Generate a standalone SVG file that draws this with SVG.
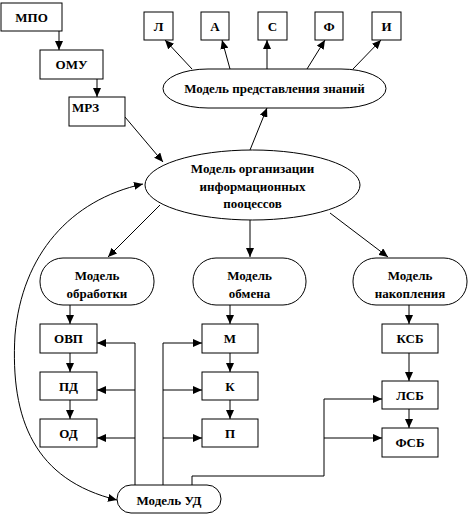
<svg xmlns="http://www.w3.org/2000/svg" width="470" height="517" viewBox="0 0 470 517">
<style>
.b{fill:#fff;stroke:#000;stroke-width:1}
.t{font-family:"Liberation Serif","Times New Roman",serif;font-weight:bold;font-size:13px;fill:#000;text-anchor:middle}
.c{fill:none;stroke:#000;stroke-width:1}
</style>
<defs>
<marker id="a" markerUnits="userSpaceOnUse" markerWidth="10" markerHeight="8" refX="9" refY="4" orient="auto-start-reverse">
<path d="M0,0 L9,4 L0,8 z" fill="#000"/>
</marker>
</defs>
<g id="connectors" class="c">
<path d="M59,31 V50" marker-end="url(#a)"/>
<path d="M97,79 V97" marker-end="url(#a)"/>
<path d="M125,117 L163,162" marker-end="url(#a)"/>
<path d="M192,69 L165,40" marker-end="url(#a)"/>
<path d="M230,69 L222,40" marker-end="url(#a)"/>
<path d="M267,69 V40" marker-end="url(#a)"/>
<path d="M307,69 L325,40" marker-end="url(#a)"/>
<path d="M353,69 L381,40" marker-end="url(#a)"/>
<path d="M250,150 L267,108" marker-end="url(#a)"/>
<path d="M160,205 L108,257" marker-end="url(#a)"/>
<path d="M250,220 V257" marker-end="url(#a)"/>
<path d="M330,213 L388,257" marker-end="url(#a)"/>
<path d="M143,184 C70,200 22,255 15,335 C10,420 35,480 117,500" marker-start="url(#a)" marker-end="url(#a)"/>
<path d="M70,305 V324" marker-end="url(#a)"/>
<path d="M230,305 V324" marker-end="url(#a)"/>
<path d="M409,305 V324" marker-end="url(#a)"/>
<path d="M70,353 V372" marker-end="url(#a)"/>
<path d="M70,400 V419" marker-end="url(#a)"/>
<path d="M230,353 V372" marker-end="url(#a)"/>
<path d="M230,400 V419" marker-end="url(#a)"/>
<path d="M409,353 V381" marker-end="url(#a)"/>
<path d="M409,409 V428" marker-end="url(#a)"/>
<path d="M135,485 V343"/>
<path d="M135,343 H97" marker-end="url(#a)"/>
<path d="M135,390 H97" marker-end="url(#a)"/>
<path d="M135,438 H97" marker-end="url(#a)"/>
<path d="M163,485 V343"/>
<path d="M163,343 H202" marker-end="url(#a)"/>
<path d="M163,390 H202" marker-end="url(#a)"/>
<path d="M163,438 H202" marker-end="url(#a)"/>
<path d="M192,485 V476 H324 V399 H382" marker-end="url(#a)"/>
<path d="M324,438 H382" marker-end="url(#a)"/>
</g>
<g id="mpo"><rect class="b" x="1" y="3" width="61" height="28"/><text class="t" x="31.5" y="22" font-size="14">МПО</text></g>
<g id="omu"><rect class="b" x="40" y="50" width="63" height="29"/><text class="t" x="71.5" y="69">ОМУ</text></g>
<g id="mrz"><rect class="b" x="69" y="97" width="56" height="29"/><text class="t" x="72" y="112" style="text-anchor:start" font-size="12">МРЗ</text></g>
<g id="l"><rect class="b" x="144" y="12" width="29" height="28"/><text class="t" x="158.5" y="30.5">Л</text></g>
<g id="a1"><rect class="b" x="201" y="12" width="28" height="28"/><text class="t" x="215" y="30.5">А</text></g>
<g id="s"><rect class="b" x="258" y="12" width="29" height="28"/><text class="t" x="272.5" y="30.5">С</text></g>
<g id="f"><rect class="b" x="315" y="12" width="28" height="28"/><text class="t" x="329" y="30.5">Ф</text></g>
<g id="i"><rect class="b" x="372" y="12" width="29" height="28"/><text class="t" x="386.5" y="30.5">И</text></g>
<g id="mpz"><rect class="b" x="163" y="69" width="223" height="39" rx="45" ry="19.5"/><text class="t" x="274.5" y="93" font-size="13.5">Модель представления знаний</text></g>
<g id="moip"><ellipse class="b" cx="252.5" cy="185" rx="107.5" ry="35"/>
<text class="t" x="252.5" y="172.5" font-size="13.5">Модель организации</text>
<text class="t" x="252.5" y="190.5" font-size="13.5">информационных</text>
<text class="t" x="252.5" y="207.5" font-size="13.5">пооцессов</text></g>
<g id="mobr"><rect class="b" x="40" y="258" width="114" height="47" rx="23"/><text class="t" x="97" y="279.5">Модель</text><text class="t" x="97" y="297.5">обработки</text></g>
<g id="mobm"><rect class="b" x="193" y="258" width="113" height="47" rx="23"/><text class="t" x="249.5" y="279.5">Модель</text><text class="t" x="249.5" y="297.5">обмена</text></g>
<g id="mnak"><rect class="b" x="353" y="258" width="114" height="47" rx="23"/><text class="t" x="410" y="279.5">Модель</text><text class="t" x="410" y="297.5">накопления</text></g>
<g id="ovp"><rect class="b" x="40" y="324" width="57" height="29"/><text class="t" x="68.5" y="343">ОВП</text></g>
<g id="pd"><rect class="b" x="40" y="372" width="57" height="28"/><text class="t" x="68.5" y="390.5">ПД</text></g>
<g id="od"><rect class="b" x="40" y="419" width="57" height="28"/><text class="t" x="68.5" y="437.5">ОД</text></g>
<g id="m"><rect class="b" x="202" y="324" width="56" height="29"/><text class="t" x="230" y="343">М</text></g>
<g id="k"><rect class="b" x="202" y="372" width="56" height="28"/><text class="t" x="230" y="390.5">К</text></g>
<g id="p"><rect class="b" x="202" y="419" width="56" height="28"/><text class="t" x="230" y="437.5">П</text></g>
<g id="ksb"><rect class="b" x="382" y="324" width="56" height="29"/><text class="t" x="410" y="343">КСБ</text></g>
<g id="lsb"><rect class="b" x="382" y="381" width="56" height="28"/><text class="t" x="410" y="399.5">ЛСБ</text></g>
<g id="fsb"><rect class="b" x="382" y="428" width="56" height="29"/><text class="t" x="410" y="447">ФСБ</text></g>
<g id="mud"><rect class="b" x="117" y="485" width="104" height="28" rx="14"/><text class="t" x="169" y="504.5" font-size="13.5">Модель УД</text></g>
</svg>
